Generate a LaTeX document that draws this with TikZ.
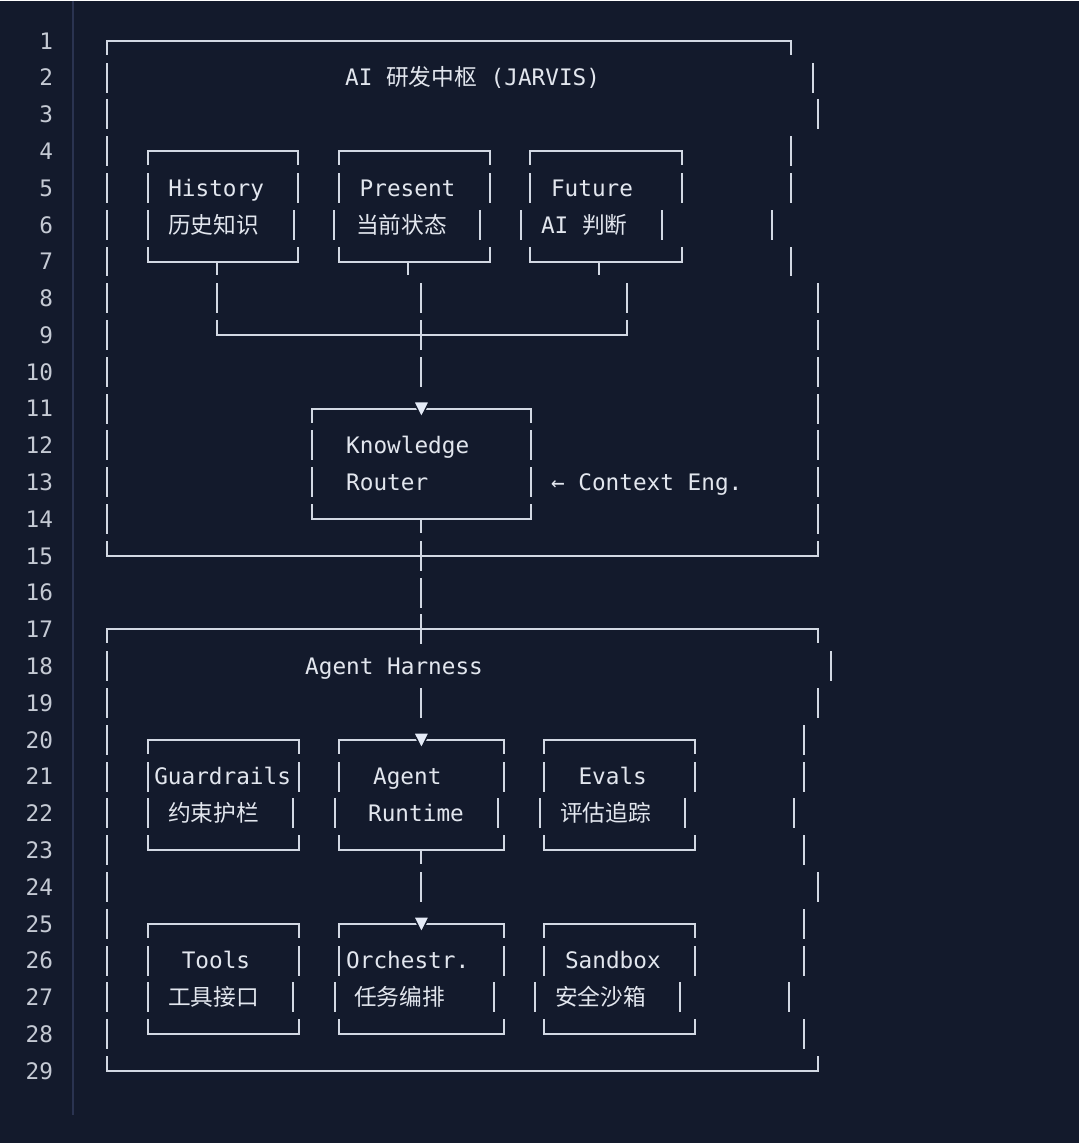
\documentclass[tikz,border=0pt]{standalone}
\usepackage{fontspec}
\newfontfamily\codefont{DejaVu Sans Mono}
\newfontfamily\cjk{Noto Sans CJK SC}
\definecolor{bgc}{HTML}{131A2C}
\definecolor{linec}{HTML}{D2D8E3}
\definecolor{tric}{HTML}{E4EAF6}
\definecolor{textc}{HTML}{E2E6EE}
\definecolor{numc}{HTML}{C5CAD4}
\definecolor{gutterc}{HTML}{2A3350}
\def\rowy#1{(3.18+36.82*#1)}
\def\vbar(#1,#2){\draw[ascii] (#1,{\rowy{#2}-14}) -- (#1,{\rowy{#2}+14});}
\def\tickdn(#1,#2){\draw[ascii] (#1,{\rowy{#2}}) -- (#1,{\rowy{#2}+13});}
\def\tickup(#1,#2){\draw[ascii] (#1,{\rowy{#2}-14}) -- (#1,{\rowy{#2}});}
\def\hbarline(#1,#2,#3){\draw[ascii] (#1,{\rowy{#3}}) -- (#2,{\rowy{#3}});}
\def\abox(#1,#2,#3,#4){\hbarline(#1,#2,#3)\tickdn(#1,#3)\tickdn(#2,#3)\hbarline(#1,#2,#4)\tickup(#1,#4)\tickup(#2,#4)}
\def\tridown(#1,#2){\filldraw[fill=tric, draw=bgc, line width=0.7pt] ({#1-7.8},{\rowy{#2}-7}) -- ({#1+7.8},{\rowy{#2}-7}) -- (#1,{\rowy{#2}+8.5}) -- cycle;}
\tikzset{
  ascii/.style={linec, line width=1pt, line cap=rect},
  txt/.style={anchor=west, inner sep=0pt, text height=8.3pt, text depth=0pt, text=textc, font=\codefont\fontsize{11.36pt}{13pt}\selectfont},
  lnum/.style={anchor=east, inner sep=0pt, text height=8.3pt, text depth=0pt, text=numc, font=\codefont\fontsize{11.36pt}{13pt}\selectfont}
}

\begin{document}
\begin{tikzpicture}[x=0.5pt, y=-0.5pt]
		%%%%% START %%%%%
		
		\fill[bgc] (0,0) rectangle (1080,1143);
		\draw[gutterc, line width=0.75pt] (73,0) -- (73,1115);
		\foreach \i in {1,...,29} \node[lnum] (n\i) at (53.5,{\rowy{\i}}) {\i};
		
		% JARVIS frame
		\hbarline(107,791.7,1) \tickdn(107,1) \tickdn(791.7,1)
		\foreach \r in {2,...,14} {\vbar(107,\r)}
		\vbar(813.3,2) \vbar(818.3,3) \vbar(791.7,4) \vbar(791.7,5)
		\vbar(772.3,6) \vbar(791.7,7)
		\foreach \r in {8,...,14} {\vbar(818.3,\r)}
		\hbarline(107,818.3,15) \tickup(107,15) \tickup(818.3,15)
		\node[txt] (jarvis) at (345,{\rowy{2}}) {AI {\cjk 研发中枢} (JARVIS)};
		
		\abox(148,298.6,4,7)
		\vbar(148,5) \vbar(298.6,5) \vbar(148,6) \vbar(293.7,6)
		\node[txt] (history) at (168,{\rowy{5}}) {History};
		\node[txt] (historyzh) at (168,{\rowy{6}}) {\cjk 历史知识};
		
		\abox(339.5,490,4,7)
		\vbar(339.5,5) \vbar(490,5) \vbar(334.7,6) \vbar(480.4,6)
		\node[txt] (present) at (359.5,{\rowy{5}}) {Present};
		\node[txt] (presentzh) at (356,{\rowy{6}}) {\cjk 当前状态};
		
		\abox(530.7,682,4,7)
		\vbar(530.7,5) \vbar(682,5) \vbar(521,6) \vbar(662.7,6)
		\node[txt] (future) at (551,{\rowy{5}}) {Future};
		\node[txt] (futurezh) at (541,{\rowy{6}}) {AI {\cjk 判断}};
		
		\tickdn(216.7,7) \tickdn(408,7) \tickdn(599.7,7)
		\vbar(216.7,8) \vbar(421.7,8) \vbar(627,8)
		\hbarline(216.7,627,9) \tickup(216.7,9) \tickup(627,9) \vbar(421.7,9)
		\vbar(421.7,10)
		
		\abox(312.1,531.4,11,14)
		\tridown(421.7,11)
		\vbar(312.1,12) \vbar(531.4,12) \vbar(312.1,13) \vbar(531.4,13)
		\tickdn(421.7,14)
		\node[txt] (knowledge) at (346,{\rowy{12}}) {Knowledge};
		\node[txt] (router) at (346,{\rowy{13}}) {Router};
		\node[txt] (context) at (551,{\rowy{13}}) {← Context Eng.};
		
		\vbar(421.7,15) \vbar(421.7,16) \vbar(421.7,17)
		
		% Harness frame
		\hbarline(107,818.3,17) \tickdn(107,17) \tickdn(818.3,17)
		\foreach \r in {18,...,28} {\vbar(107,\r)}
		\vbar(831.7,18) \vbar(818.3,19) \vbar(805,20) \vbar(805,21)
		\vbar(795,22) \vbar(805,23) \vbar(818.3,24) \vbar(805,25)
		\vbar(805,26) \vbar(790,27) \vbar(805,28)
		\hbarline(107,818.3,29) \tickup(107,29) \tickup(818.3,29)
		\node[txt] (harness) at (305,{\rowy{18}}) {Agent Harness};
		\vbar(421.7,19)
		
		\abox(147.7,298.7,20,23)
		\vbar(147.7,21) \vbar(298.7,21) \vbar(147.7,22) \vbar(293.3,22)
		\node[txt] (guard) at (154,{\rowy{21}}) {Guardrails};
		\node[txt] (guardzh) at (168,{\rowy{22}}) {\cjk 约束护栏};
		
		\abox(339.3,504,20,23)
		\tridown(421.7,20)
		\vbar(339.3,21) \vbar(504,21) \vbar(335,22) \vbar(498.7,22)
		\tickdn(421.7,23)
		\node[txt] (agent) at (373,{\rowy{21}}) {Agent};
		\node[txt] (runtime) at (368,{\rowy{22}}) {Runtime};
		
		\abox(544.3,695.3,20,23)
		\vbar(544.3,21) \vbar(695.3,21) \vbar(540,22) \vbar(685.7,22)
		\node[txt] (evals) at (578.5,{\rowy{21}}) {Evals};
		\node[txt] (evalszh) at (560,{\rowy{22}}) {\cjk 评估追踪};
		
		\vbar(421.7,24)
		
		\abox(147.7,298.7,25,28)
		\vbar(147.7,26) \vbar(298.7,26) \vbar(147.7,27) \vbar(293.3,27)
		\node[txt] (tools) at (181.5,{\rowy{26}}) {Tools};
		\node[txt] (toolszh) at (168,{\rowy{27}}) {\cjk 工具接口};
		
		\abox(339.3,504,25,28)
		\tridown(421.7,25)
		\vbar(339.3,26) \vbar(504,26) \vbar(335,27) \vbar(494,27)
		\node[txt] (orch) at (346,{\rowy{26}}) {Orchestr.};
		\node[txt] (orchzh) at (354,{\rowy{27}}) {\cjk 任务编排};
		
		\abox(544.3,695.3,25,28)
		\vbar(544.3,26) \vbar(695.3,26) \vbar(535,27) \vbar(680.7,27)
		\node[txt] (sandbox) at (565,{\rowy{26}}) {Sandbox};
		\node[txt] (sandboxzh) at (555,{\rowy{27}}) {\cjk 安全沙箱};
		
		%%%%% END %%%%%
\end{tikzpicture}
\end{document}
